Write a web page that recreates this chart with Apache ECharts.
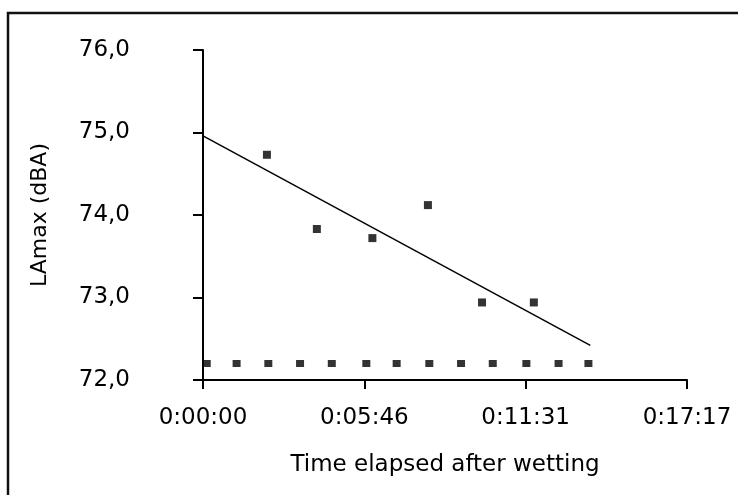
<!DOCTYPE html>
<html>
<head>
<meta charset="utf-8">
<script src="https://cdn.jsdelivr.net/npm/echarts@6/dist/echarts.min.js"></script>
<style>
  html, body { margin: 0; padding: 0; background: #fff; }
  #chart { width: 738px; height: 495px; }
</style>
</head>
<body>
<div id="chart"></div>
<script>
// measured points (seconds after wetting, dBA)
var pointTime = [137, 244, 363, 482, 598, 709]
var pointLevel = [74.73, 73.83, 73.72, 74.12, 72.94, 72.94]

// lower row of markers
var baseTime = [8, 72, 140, 208, 276, 350, 415, 485, 553, 621, 693, 762, 826]
var baseLevel = [72.2, 72.2, 72.2, 72.2, 72.2, 72.2, 72.2, 72.2, 72.2, 72.2, 72.2, 72.2, 72.2]

// linear trend end points
var trendTime = [0, 830]
var trendLevel = [74.96, 72.42]

var xTickLabels = ['0:00:00', '0:05:46', '0:11:31', '0:17:17']

function pairs(xs, ys) {
  return xs.map(function (x, i) { return [x, ys[i]] })
}

var chart = echarts.init(document.getElementById('chart'))
var font = 'DejaVu Sans, sans-serif'

chart.setOption({
  animation: false,
  backgroundColor: '#fff',
  graphic: [{
    type: 'rect',
    shape: { x: 8, y: 13, width: 760, height: 520 },
    style: { fill: 'none', stroke: '#111', lineWidth: 2.5 }
  }],
  grid: { left: 203, top: 50, right: 51, bottom: 115 },
  xAxis: {
    type: 'value',
    min: 0,
    max: 1037.25,
    interval: 345.75,
    name: 'Time elapsed after wetting',
    nameLocation: 'middle',
    nameGap: 74,
    nameTextStyle: { color: '#000', fontFamily: font, fontSize: 23 },
    axisLine: { lineStyle: { color: '#000', width: 2 } },
    axisTick: { length: 9, lineStyle: { color: '#000', width: 2 } },
    axisLabel: {
      color: '#000', fontFamily: font, fontSize: 23, margin: 27,
      formatter: function (v, i) { return xTickLabels[i] }
    },
    splitLine: { show: false }
  },
  yAxis: {
    type: 'value',
    min: 72,
    max: 76,
    interval: 1,
    name: 'LAmax (dBA)',
    nameLocation: 'middle',
    nameGap: 152,
    nameRotate: 90,
    nameTextStyle: { color: '#000', fontFamily: font, fontSize: 22 },
    axisLine: { show: true, lineStyle: { color: '#000', width: 2 } },
    axisTick: { show: true, length: 10, lineStyle: { color: '#000', width: 2 } },
    axisLabel: {
      color: '#000', fontFamily: font, fontSize: 23, margin: 73,
      formatter: function (v) { return v.toFixed(1).replace('.', ',') }
    },
    splitLine: { show: false }
  },
  series: [
    {
      name: 'trend',
      type: 'line',
      data: pairs(trendTime, trendLevel),
      showSymbol: false,
      lineStyle: { color: '#000', width: 1.5 },
      z: 2
    },
    {
      name: 'LAmax',
      type: 'scatter',
      data: pairs(pointTime, pointLevel),
      symbol: 'rect',
      symbolSize: 8,
      itemStyle: { color: '#000' },
      z: 3
    },
    {
      name: 'base',
      type: 'scatter',
      data: pairs(baseTime, baseLevel),
      symbol: 'rect',
      symbolSize: [8, 7],
      itemStyle: { color: '#000' },
      z: 3
    }
  ]
})
</script>
</body>
</html>
